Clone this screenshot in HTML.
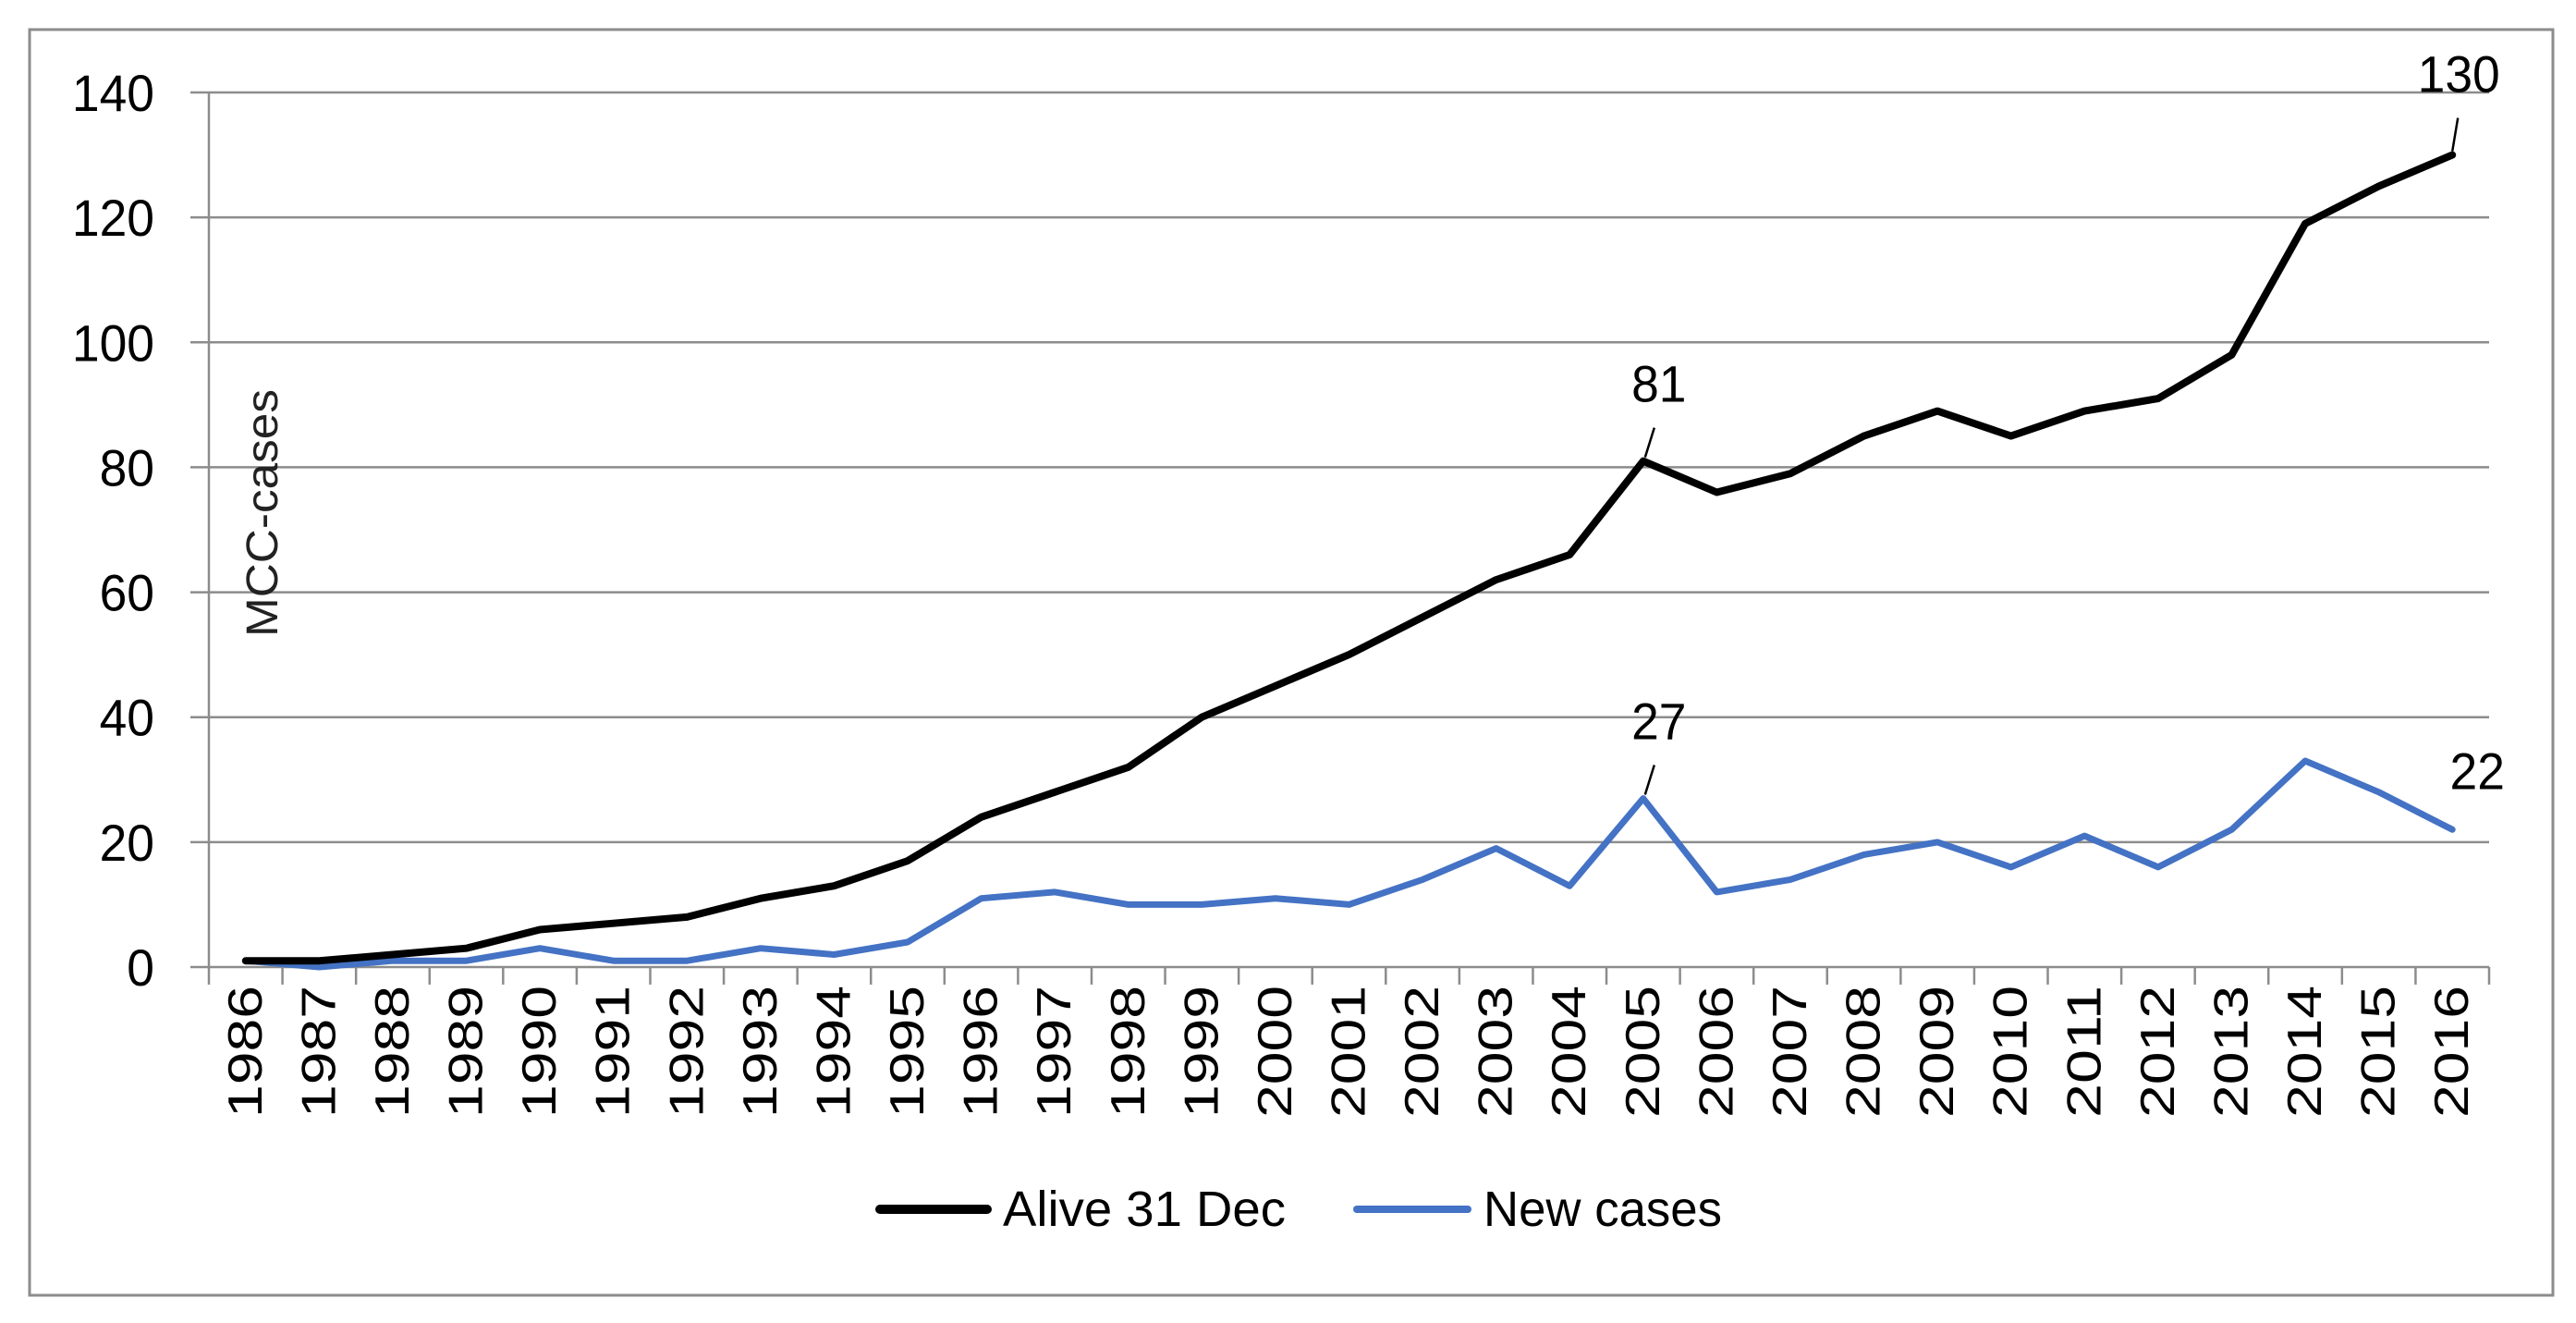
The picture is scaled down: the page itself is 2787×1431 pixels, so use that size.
<!DOCTYPE html>
<html><head><meta charset="utf-8"><style>
html,body{margin:0;padding:0;background:#fff;}
svg{display:block;font-family:"Liberation Sans",sans-serif;}
</style></head><body>
<svg id="chart" width="2787" height="1431" viewBox="0 0 2787 1431" xmlns="http://www.w3.org/2000/svg">
<rect x="32" y="32" width="2730" height="1369" fill="#fff" stroke="#8c8c8c" stroke-width="3"/>
<g id="grid"></g><g id="axes"></g><g id="series"></g><g id="labels"></g>
<text transform="translate(300,555) rotate(-90)" text-anchor="middle" font-size="48" fill="#222" textLength="268" lengthAdjust="spacingAndGlyphs">MCC-cases</text>
<g>
<g>
<line x1="952" y1="1308" x2="1068" y2="1308" stroke="#000" stroke-width="10" stroke-linecap="round"/>
<text x="1085" y="1326" font-size="54" textLength="306" lengthAdjust="spacingAndGlyphs">Alive 31 Dec</text></g>
<g>
<line x1="1468" y1="1308" x2="1588" y2="1308" stroke="#4472C4" stroke-width="8" stroke-linecap="round"/>
<text x="1605" y="1326" font-size="54" textLength="258" lengthAdjust="spacingAndGlyphs">New cases</text></g>
</g>
</svg>
<script>
const categories=["1986","1987","1988","1989","1990","1991","1992","1993","1994","1995","1996","1997","1998","1999","2000","2001","2002","2003","2004","2005","2006","2007","2008","2009","2010","2011","2012","2013","2014","2015","2016"];
const aliveValues=[1,1,2,3,6,7,8,11,13,17,24,28,32,40,45,50,56,62,66,81,76,79,85,89,85,89,91,98,119,125,130];
const newCasesValues=[1,0,1,1,3,1,1,3,2,4,11,12,10,10,11,10,14,19,13,27,12,14,18,20,16,21,16,22,33,28,22];
const yTicks=[0,20,40,60,80,100,120,140];
const annotations=[{series:"alive",index:19,text:"81"},{series:"alive",index:30,text:"130"},{series:"new",index:19,text:"27"},{series:"new",index:30,text:"22"}];

const NS="http://www.w3.org/2000/svg";
const X0=226,X1=2693,Y0=1046,Y1=100,YMAX=140;
const band=(X1-X0)/categories.length;
function xScale(i){return X0+band*(i+0.5);}
function yScale(v){return Y0-(v/YMAX)*(Y0-Y1);}
function mk(tag,attrs,parent){const e=document.createElementNS(NS,tag);for(const k in attrs)e.setAttribute(k,attrs[k]);parent.appendChild(e);return e;}
const grid=document.getElementById('grid'),axes=document.getElementById('axes'),series=document.getElementById('series'),labels=document.getElementById('labels');

yTicks.forEach(t=>{
  const y=yScale(t);
  if(t>0){const g=mk('line',{x1:X0-20,y1:y,x2:X1,y2:y,stroke:'#8c8c8c','stroke-width':2.5},grid);
  
  }
  const tx=mk('text',{x:167,y:y+20,'text-anchor':'end','font-size':56,fill:'#000',textLength:String(t).length*29.7,lengthAdjust:'spacingAndGlyphs'},axes);
  tx.textContent=t;
  
  
});
const xa=mk('line',{x1:X0-20,y1:Y0,x2:X1,y2:Y0,stroke:'#8c8c8c','stroke-width':2.5},axes);


const ya=mk('line',{x1:X0,y1:Y1,x2:X0,y2:Y0+19,stroke:'#8c8c8c','stroke-width':2.5},axes);


for(let i=1;i<=categories.length;i++){
  const tk=mk('line',{x1:X0+band*i,y1:Y0,x2:X0+band*i,y2:Y0+19,stroke:'#8c8c8c','stroke-width':2.5},axes);
  
  
}
categories.forEach((c,i)=>{
  const x=xScale(i)+17;
  const t=mk('text',{transform:`translate(${x},1066) rotate(-90)`,'text-anchor':'end','font-size':52,fill:'#000',textLength:143,lengthAdjust:'spacingAndGlyphs'},axes);
  t.textContent=c;
  
  
});
function line(vals,color,w,name){
  const d=vals.map((v,i)=>(i?'L':'M')+xScale(i).toFixed(1)+','+yScale(v).toFixed(1)).join(' ');
  const p=mk('path',{d:d,fill:'none',stroke:color,'stroke-width':w,'stroke-linejoin':'round','stroke-linecap':'round'},series);
  
  
}
line(newCasesValues,'#4472C4',7,'line-new-cases');
line(aliveValues,'#000',8,'line-alive-31-dec');

annotations.forEach(a=>{
  const vals=a.series==='alive'?aliveValues:newCasesValues;
  const px=xScale(a.index),py=yScale(vals[a.index]);
  let tx,ty,lead=null;
  if(a.text==='130'){tx=px+7;ty=py-68;lead=[px+6,py-40,px,py-4];}
  else if(a.text==='22'){tx=px+27;ty=py-44;}
  else {tx=px+17;ty=py-64;lead=[px+12,py-36,px+2,py-4];}
  if(lead){const l=mk('line',{x1:lead[0],y1:lead[1],x2:lead[2],y2:lead[3],stroke:'#000','stroke-width':2.5},labels);
  
  }
  const t=mk('text',{x:tx,y:ty,'text-anchor':'middle','font-size':56,fill:'#000',textLength:a.text.length*29.7,lengthAdjust:'spacingAndGlyphs'},labels);
  t.textContent=a.text;
  
  
});
</script>
</body></html>
